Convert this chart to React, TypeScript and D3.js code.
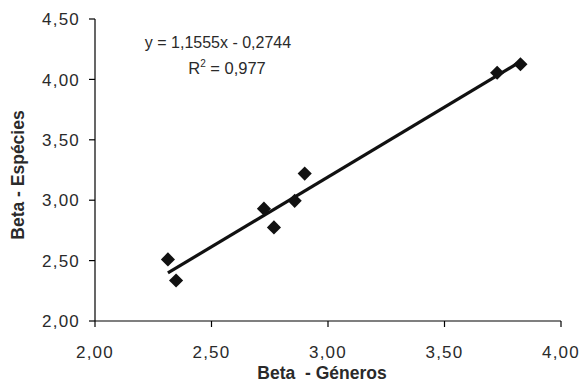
import React from "react";
import * as d3 from "d3";

const generos = [2.313, 2.348, 2.725, 2.768, 2.857, 2.9, 3.726, 3.826];
const especies = [2.51, 2.335, 2.93, 2.775, 2.995, 3.22, 4.055, 4.125];
const xTicks = [2.0, 2.5, 3.0, 3.5, 4.0];
const yTicks = [2.0, 2.5, 3.0, 3.5, 4.0, 4.5];
const slope = 1.1555;
const intercept = -0.2744;
const eqText = "y = 1,1555x - 0,2744";
const r2Value = "0,977";
const xTitle = "Beta  - Géneros";
const yTitle = "Beta - Espécies";

const W = 582;
const H = 383;
const fmt = (v: number) => v.toFixed(2).replace(".", ",");

export default function App() {
  const x = d3.scaleLinear().domain([2, 4]).range([95, 561]);
  const y = d3.scaleLinear().domain([2, 4.5]).range([321, 19]);
  const xMin = d3.min(generos)!;
  const xMax = d3.max(generos)!;
  const line = d3
    .line<number>()
    .x((d) => x(d))
    .y((d) => y(slope * d + intercept));
  const font = "'Liberation Sans', Arial, sans-serif";
  const col = "#2a2a2a";
  return (
    <svg
      width={W}
      height={H}
      style={{ position: "absolute", left: 0, top: 0, background: "#fff" }}
      fontFamily={font}
    >
      {/* axes */}
      <line x1={x(2)} x2={x(2)} y1={y(4.5)} y2={y(2)} stroke="#000" strokeWidth={1.2} />
      <line x1={x(2)} x2={x(4)} y1={y(2)} y2={y(2)} stroke="#000" strokeWidth={1.2} />
      {yTicks.map((t) => (
        <g key={"y" + t}>
          <line x1={x(2) - 6} x2={x(2)} y1={y(t)} y2={y(t)} stroke="#000" strokeWidth={1.2} />
          <text
            x={x(2) - 15}
            y={y(t)}
            dy="0.36em"
            textAnchor="end"
            fontSize={17}
            letterSpacing={1.2}
            fill={col}
          >
            {fmt(t)}
          </text>
        </g>
      ))}
      {xTicks.map((t) => (
        <g key={"x" + t}>
          <line x1={x(t)} x2={x(t)} y1={y(2)} y2={y(2) + 6} stroke="#000" strokeWidth={1.2} />
          <text
            x={x(t)}
            y={y(2) + 37}
            textAnchor="middle"
            fontSize={17}
            letterSpacing={1.2}
            fill={col}
          >
            {fmt(t)}
          </text>
        </g>
      ))}
      {/* trendline */}
      <path d={line([xMin, xMax]) || ""} stroke="#111" strokeWidth={3.2} fill="none" />
      {/* points */}
      {generos.map((g, i) => (
        <rect
          key={i}
          x={-5}
          y={-5}
          width={10}
          height={10}
          fill="#111"
          transform={`translate(${x(g)},${y(especies[i])}) rotate(45)`}
        />
      ))}
      {/* equation */}
      <text x={218} y={48} textAnchor="middle" fontSize={16} fill={col}>
        {eqText}
      </text>
      <text x={227} y={74} textAnchor="middle" fontSize={16.5} fill={col}>
        R<tspan dy={-7} fontSize={10}>2</tspan>
        <tspan dy={7}>{" = " + r2Value}</tspan>
      </text>
      {/* titles */}
      <text
        x={322}
        y={379}
        textAnchor="middle"
        fontSize={17.5}
        fontWeight="bold"
        fill={col}
        style={{ whiteSpace: "pre" }}
      >
        {xTitle}
      </text>
      <text
        transform={`translate(24,175) rotate(-90)`}
        textAnchor="middle"
        fontSize={17.5}
        fontWeight="bold"
        fill={col}
      >
        {yTitle}
      </text>
    </svg>
  );
}
